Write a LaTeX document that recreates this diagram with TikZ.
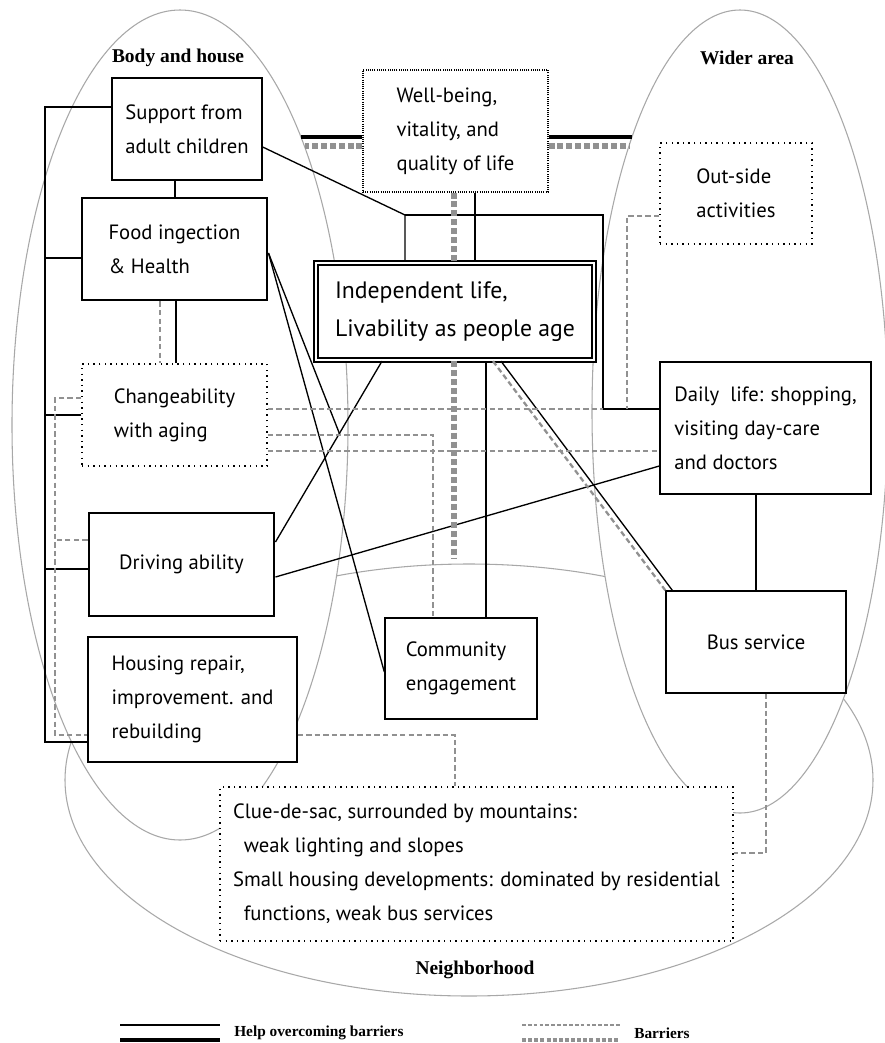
\documentclass[tikz,border=0pt]{standalone}
\usepackage{fontspec}
\setmainfont{PT Sans}
\newfontfamily\headfont{Liberation Serif}
\usetikzlibrary{calc}
\definecolor{zonegray}{RGB}{168,168,168}
\definecolor{bargray}{RGB}{145,145,145}
\begin{document}
\begin{tikzpicture}[x=0.75pt,y=-0.75pt,
  box/.style={draw, line width=1pt, fill=white, align=left, inner sep=0pt, font=\fontsize{15.5}{25.5}\selectfont},
  thickbox/.style={box, line width=2.2pt},
  dotbox/.style={box, line width=1pt, dash pattern=on 1pt off 3.2pt},
  finedotbox/.style={box, line width=0.8pt, dash pattern=on 0.75pt off 0.9pt},
  mainbox/.style={box, line width=1.7pt, double=white, double distance=1.1pt, font=\fontsize{17.8}{29}\selectfont},
  help/.style={draw, line width=1pt},
  helpthick/.style={draw, line width=2.4pt},
  barrier/.style={draw=bargray, line width=1.7pt, dash pattern=on 4pt off 2.4pt},
  barrierthick/.style={draw=bargray, line width=3.8pt, dash pattern=on 4.5pt off 2.2pt},
  zone/.style={draw=zonegray, line width=0.8pt, fill=white},
  head/.style={font=\headfont\bfseries\fontsize{14.6}{17}\selectfont},
  legendtext/.style={font=\headfont\bfseries\fontsize{11.5}{14}\selectfont, anchor=west, inner sep=0pt}
]
\path[fill=white] (0,0) rectangle (885,1043);
\useasboundingbox (0,0) rectangle (885,1043);
% zones
\path[zone] (469,780) ellipse [x radius=303pt, y radius=162pt];
\path[zone] (180,425) ellipse [x radius=126pt, y radius=311.25pt];
\path[zone] (740,411.5) ellipse [x radius=111pt, y radius=301.125pt];
\node[head] (lbody) at (178,58) {Body and house};
\node[head] (lwide) at (747,58) {Wider area};
\node[head] (lneigh) at (475,970) {Neighborhood};
% boxes
\node[box, minimum width=112.5pt, minimum height=76.5pt] (sup) at (187,129) {Support from\\adult children};
\node[thickbox, minimum width=138.75pt, minimum height=76.5pt] (food) at (174.5,249) {Food ingection\\\& Health};
\node[finedotbox, minimum width=138.75pt, minimum height=91.5pt] (wb) at (455.5,131) {Well-being,\\vitality, and\\quality of life};
\node[mainbox, minimum width=208.5pt, minimum height=72.75pt] (ind) at (455,311.5) {Independent life,\\Livability as people age};
\node[dotbox, minimum width=114pt, minimum height=75.75pt] (out) at (736,193.5) {Out-side\\activities};
\node[dotbox, minimum width=138.75pt, minimum height=76.5pt] (chg) at (174.5,415) {Changeability\\with aging};
\node[thickbox, minimum width=138.75pt, minimum height=77.25pt] (drv) at (181.5,564.5) {Driving ability};
\node[box, minimum width=156.75pt, minimum height=93.75pt] (hou) at (192.5,699.5) {Housing repair,\\improvement. and\\rebuilding};
\node[box, minimum width=114pt, minimum height=75.75pt] (com) at (461,668.5) {Community\\engagement};
\node[box, minimum width=158.25pt, minimum height=99pt] (day) at (765.5,428) {Daily\ \ life: shopping,\\visiting day-care\\and doctors};
\node[box, minimum width=135pt, minimum height=76.5pt] (bus) at (756,642) {Bus service};
\node[dotbox, minimum width=384.75pt, minimum height=115.5pt] (clue) at (476.5,864) {Clue-de-sac, surrounded by mountains:\\\hspace*{8pt}weak lighting and slopes\\Small housing developments: dominated by residential\\\hspace*{8pt}functions, weak bus services};
% fixed junctions
\coordinate (bB) at (45,742);
\coordinate (J) at (405,215);
\coordinate (K) at (603,409);
\coordinate (O1) at (627,409);
\coordinate (M) at (433,435);
\coordinate (F3) at (340,435);
\coordinate (L1) at (55,735);
\coordinate (H1) at (455,735);
\coordinate (E1) at (301,137);
\coordinate (E2) at (632,137);
\coordinate (E3) at (305,146);
\coordinate (E4) at (629,146);
\coordinate (N1) at (454,558);
% offsets on boxes
\coordinate (sb) at ($(sup.west)+(0,-22)$);
\coordinate (fb) at ($(food.west)+(0,9)$);
\coordinate (db) at ($(drv.west)+(0,4.5)$);
\coordinate (s1) at ($(sup.south)+(-12,0)$);
\coordinate (f2) at ($(food.south)+(1.5,0)$);
\coordinate (f4) at ($(food.south)+(-14.5,0)$);
\coordinate (se) at ($(sup.east)+(0,18)$);
\coordinate (w1) at ($(wb.south)+(19.5,0)$);
\coordinate (w2) at ($(wb.south)+(-1.5,0)$);
\coordinate (wl1) at ($(wb.west)+(0,6)$);
\coordinate (wl2) at ($(wb.west)+(0,15)$);
\coordinate (wr1) at ($(wb.east)+(0,6)$);
\coordinate (wr2) at ($(wb.east)+(0,15)$);
\coordinate (i1) at ($(ind.south)+(-73,0)$);
\coordinate (i2) at ($(ind.south)+(-1,0)$);
\coordinate (i3) at ($(ind.south)+(31,0)$);
\coordinate (i4) at ($(ind.south)+(38,0)$);
\coordinate (i5) at ($(ind.south)+(46,0)$);
\coordinate (d1) at ($(drv.east)+(0,-22.5)$);
\coordinate (d2) at ($(drv.east)+(0,12.5)$);
\coordinate (d3) at ($(drv.west)+(0,-24.5)$);
\coordinate (y1) at ($(day.west)+(0,38)$);
\coordinate (fe) at ($(food.east)+(0,4)$);
\coordinate (cw) at ($(com.west)+(0,3.5)$);
\coordinate (c1) at ($(chg.west)+(0,-17)$);
\coordinate (c2) at ($(chg.east)+(0,-6)$);
\coordinate (c3) at ($(chg.east)+(0,20)$);
\coordinate (c4) at ($(chg.east)+(0,36)$);
\coordinate (o1) at ($(out.west)+(0,22.5)$);
\coordinate (h2) at ($(hou.east)+(0,35.5)$);
\coordinate (h3) at ($(hou.west)+(0,35.5)$);
\coordinate (b1) at ($(bus.south)+(10,0)$);
\coordinate (ce) at ($(clue.east)+(0,-11)$);
\coordinate (bw1) at ($(bus.north west)+(7,0)$);
% help connectors
\draw[help] (sb) -| (bB) -- (bB -| hou.west);
\draw[help] (fb) -- (fb -| bB);
\draw[help] (chg.west) -- (chg.west -| bB);
\draw[help] (db) -- (db -| bB);
\draw[help] (s1) -- (s1 |- food.north);
\draw[help] (f2) -- (f2 |- chg.north);
\draw[help] (se) -- (J) -- (J |- ind.north);
\draw[help] (J) -| (K) -- (K -| day.west);
\draw[help] (w1) -- (w1 |- ind.north);
\draw[help] (i1) -- (d1);
\draw[help] (d2) -- (y1);
\draw[help] (i3) -- (i3 |- com.north);
\draw[help] (i5) -- (bw1);
\draw[help] (bus.north) -- (bus.north |- day.south);
\draw[help] (fe) -- (cw);
\draw[help] (fe) -- (F3);
\draw[helpthick] (wl1) -- (E1);
\draw[helpthick] (wr1) -- (E2);
% barriers
\draw[barrierthick] (wl2) -- (E3);
\draw[barrierthick] (wr2) -- (E4);
\draw[barrierthick] (w2) -- (w2 |- ind.north);
\draw[barrierthick] (i2) -- (N1);
\draw[barrier] (f4) -- (f4 |- chg.north);
\draw[barrier] (c1) -| (L1) -- (h3);
\draw[barrier] (d3) -- (d3 -| L1);
\draw[barrier] (c2) -- (K);
\draw[barrier] (c3) -- (M) -- (M |- com.north);
\draw[barrier] (c4) -- (c4 -| day.west);
\draw[barrier] (o1) -| (O1);
\draw[barrier] (i4) -- (bus.north west);
\draw[barrier] (h2) -- (H1) -- (H1 |- clue.north);
\draw[barrier] (b1) |- (ce);
% legend
\coordinate (lg1) at (120,1025);
\coordinate (lg2) at (220,1025);
\coordinate (lg3) at (120,1040);
\coordinate (lg4) at (220,1040);
\coordinate (lb1) at (522,1025);
\coordinate (lb2) at (620,1025);
\coordinate (lb3) at (522,1040);
\coordinate (lb4) at (620,1040);
\draw[help, line width=1.4pt] (lg1) -- (lg2);
\draw[helpthick, line width=2.8pt] (lg3) -- (lg4);
\node[legendtext] (lt1) at (234,1033) {Help overcoming barriers};
\draw[barrier, line width=1.4pt, dash pattern=on 2.8pt off 1.6pt] (lb1) -- (lb2);
\draw[barrierthick, line width=3pt, dash pattern=on 3pt off 1.6pt] (lb3) -- (lb4);
\node[legendtext] (lt2) at (634,1033) {Barriers};
\end{tikzpicture}
\end{document}
